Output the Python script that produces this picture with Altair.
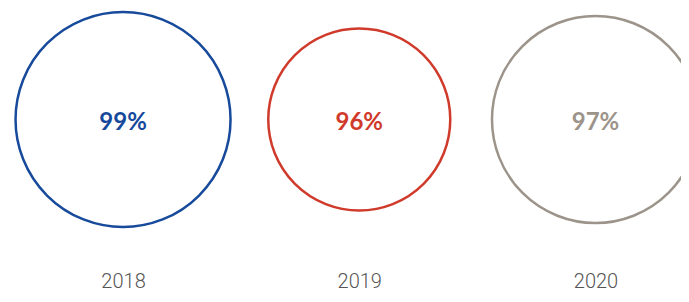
import altair as alt
import pandas as pd

years = [2018, 2019, 2020]
values = [99, 96, 97]
labels = ["99%", "96%", "97%"]
colors = ["#174A9B", "#D03A2B", "#9C948A"]

df = pd.DataFrame({"year": years, "value": values, "label": labels})

x = alt.X(
    "year:Q",
    scale=alt.Scale(domain=[2017.513, 2020.362], nice=False, zero=False),
    axis=alt.Axis(
        values=years, format="d", title=None, grid=False, domain=False,
        ticks=False, tickSize=0, labelPadding=40, labelFontSize=20,
        labelFont="Roboto", labelFontWeight=300, labelColor="#555555",
        labelBaseline="top",
    ),
)
cscale = alt.Scale(domain=[str(y) for y in years], range=colors)

circles = alt.Chart(df).transform_calculate(yr="toString(datum.year)").mark_point(
    shape="circle", filled=False, strokeWidth=2.5, opacity=1
).encode(
    x=x,
    size=alt.Size("value:Q", scale=alt.Scale(domain=[96, 97, 99], range=[33124, 42849, 46225]), legend=None),
    color=alt.Color("yr:N", scale=cscale, legend=None),
)

texts = alt.Chart(df).transform_calculate(yr="toString(datum.year)").mark_text(
    font="Lato", fontWeight="bold", fontSize=24, baseline="middle", dy=3
).encode(
    x=x,
    text="label:N",
    color=alt.Color("yr:N", scale=cscale, legend=None),
)

chart = alt.layer(circles, texts).properties(
    width=673, height=223,
    autosize=alt.AutoSizeParams(type="none"),
    padding={"left": 0, "top": 0, "right": 0, "bottom": 63},
).configure_view(stroke=None)

chart.save("out.html", embed_options={"renderer": "svg", "actions": False})
